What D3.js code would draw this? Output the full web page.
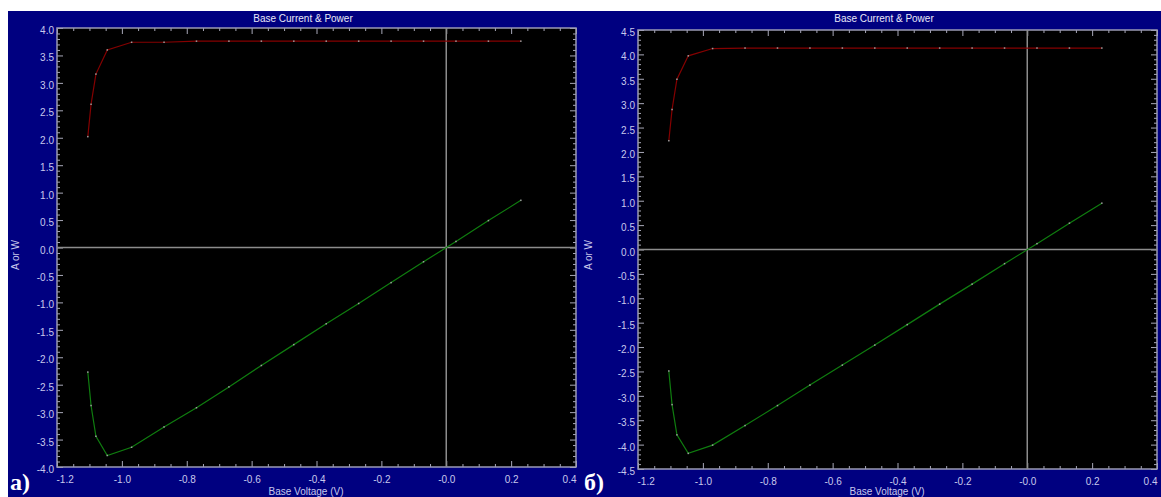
<!DOCTYPE html>
<html lang="ru">
<head>
<meta charset="utf-8">
<title>Base Current & Power</title>
<script src="https://d3js.org/d3.v7.min.js"></script>
<style>
  body { margin: 0; background: #fff; }
  svg { display: block; }
  .tick text { font-family: "Liberation Sans", Arial, sans-serif; font-size: 10px; fill: #c8c8ec; }
  .tick line { stroke: #a8a8b8; }
  .lbl { font-family: "Liberation Sans", Arial, sans-serif; font-size: 10px; fill: #c8c8ec; }
  .ttl { font-family: "Liberation Sans", Arial, sans-serif; font-size: 10px; fill: #e8e8f8; }
  .tag { font-family: "Liberation Serif", "Times New Roman", serif; font-weight: bold; font-size: 24px; fill: #fff; }
</style>
</head>
<body>
<div id="chart"></div>
<script>
// base voltage sweep (V), same for both measurements
var volts = [-1.105, -1.095, -1.08, -1.045, -0.97, -0.87, -0.77, -0.67, -0.57, -0.47, -0.37, -0.27, -0.17, -0.07, 0.03, 0.13, 0.23];

// panel а)
var currentA = [2.02, 2.61, 3.16, 3.60, 3.74, 3.74, 3.76, 3.76, 3.76, 3.76, 3.76, 3.76, 3.76, 3.76, 3.76, 3.76, 3.76];
var powerA = [-2.27, -2.88, -3.44, -3.79, -3.64, -3.27, -2.92, -2.54, -2.15, -1.77, -1.39, -1.02, -0.64, -0.26, 0.11, 0.49, 0.86];

// panel б)
var currentB = [2.23, 2.87, 3.49, 3.97, 4.12, 4.13, 4.13, 4.13, 4.13, 4.13, 4.13, 4.13, 4.13, 4.13, 4.13, 4.13, 4.13];
var powerB = [-2.49, -3.18, -3.80, -4.18, -4.01, -3.61, -3.20, -2.78, -2.37, -1.96, -1.54, -1.12, -0.71, -0.29, 0.12, 0.54, 0.95];

// axis ticks
var xMajor = [-1.2, -1.0, -0.8, -0.6, -0.4, -0.2, 0.0, 0.2, 0.4];
var xLabels = ["-1.2", "-1.0", "-0.8", "-0.6", "-0.4", "-0.2", "-0.0", "0.2", "0.4"];
var yLabelsA = ["-4.0", "-3.5", "-3.0", "-2.5", "-2.0", "-1.5", "-1.0", "-0.5", "0.0", "0.5", "1.0", "1.5", "2.0", "2.5", "3.0", "3.5", "4.0"];
var yLabelsB = ["-4.5", "-4.0", "-3.5", "-3.0", "-2.5", "-2.0", "-1.5", "-1.0", "-0.5", "0.0", "0.5", "1.0", "1.5", "2.0", "2.5", "3.0", "3.5", "4.0", "4.5"];

var W = 1161, H = 497;
var svg = d3.select("#chart").append("svg").attr("width", W).attr("height", H);

function drawPanel(p) {
  var g = svg.append("g");

  // blue frame
  g.append("rect").attr("x", p.bx).attr("y", 11).attr("width", p.bw).attr("height", H - 11).attr("fill", "#000080");

  var x = d3.scaleLinear().domain([-1.2, 0.4]).range([p.left, p.right]);
  var y = d3.scaleLinear().domain([-p.ymax, p.ymax]).range([p.bottom, p.top]);

  g.append("rect").attr("x", p.left).attr("y", p.top)
    .attr("width", p.right - p.left).attr("height", p.bottom - p.top).attr("fill", "#000");

  var yMajor = p.ylabels.map(Number);
  var xMinor = d3.range(-1.2, 0.401, 0.05).filter(function (v) { return Math.abs(v * 5 - Math.round(v * 5)) > 0.01; });
  var yMinor = d3.range(-p.ymax, p.ymax + 0.001, 0.1).filter(function (v) { return Math.abs(v * 2 - Math.round(v * 2)) > 0.01; });

  function axes(gen, sc, ticks, size, labels, tr) {
    var a = gen(sc).tickValues(ticks).tickSizeInner(-size).tickSizeOuter(0);
    if (labels) a.tickFormat(function (d, i) { return labels[i]; }).tickPadding(labels.pad);
    else a.tickFormat("");
    var ag = g.append("g").attr("transform", tr).call(a);
    ag.select(".domain").remove();
    return ag;
  }

  xLabels.pad = 9;
  p.ylabels.pad = 3;
  var xl = axes(d3.axisBottom, x, xMajor, 6, xLabels, "translate(0," + p.bottom + ")");
  // end labels are kept inside the plot width
  var xt = xl.selectAll("text");
  xt.filter(function (d, i) { return i === 0; }).attr("text-anchor", "start").attr("x", -1);
  xt.filter(function (d, i) { return i === xMajor.length - 1; }).attr("text-anchor", "end").attr("x", 0);
  axes(d3.axisBottom, x, xMinor, 3, null, "translate(0," + p.bottom + ")");
  axes(d3.axisTop, x, xMajor, 6, null, "translate(0," + p.top + ")");
  axes(d3.axisTop, x, xMinor, 3, null, "translate(0," + p.top + ")");
  var yl = axes(d3.axisLeft, y, yMajor, 6, p.ylabels, "translate(" + p.left + ",0)");
  yl.selectAll("text").attr("dy", "0.55em");
  axes(d3.axisLeft, y, yMinor, 3, null, "translate(" + p.left + ",0)");
  axes(d3.axisRight, y, yMajor, 6, null, "translate(" + p.right + ",0)");
  axes(d3.axisRight, y, yMinor, 3, null, "translate(" + p.right + ",0)");

  // plot border
  g.append("rect").attr("x", p.left).attr("y", p.top)
    .attr("width", p.right - p.left).attr("height", p.bottom - p.top)
    .attr("fill", "none").attr("stroke", "#9a9ab4").attr("stroke-width", 1.5);

  // zero lines
  g.append("line").attr("x1", x(0)).attr("x2", x(0)).attr("y1", p.top).attr("y2", p.bottom)
    .attr("stroke", "#8c8c8c").attr("stroke-width", 1.5);
  g.append("line").attr("x1", p.left).attr("x2", p.right).attr("y1", y(0)).attr("y2", y(0))
    .attr("stroke", "#8c8c8c").attr("stroke-width", 1.5);

  var line = d3.line().x(function (d) { return x(d[0]); }).y(function (d) { return y(d[1]); });
  [[p.current, "#850000"], [p.power, "#0f7d0f"]].forEach(function (s) {
    var pts = volts.map(function (v, i) { return [v, s[0][i]]; });
    g.append("path").datum(pts).attr("d", line)
      .attr("fill", "none").attr("stroke", s[1]).attr("stroke-width", 1.2);
    g.selectAll(null).data(pts).enter().append("rect")
      .attr("x", function (d) { return x(d[0]) - 0.75; })
      .attr("y", function (d) { return y(d[1]) - 0.75; })
      .attr("width", 1.5).attr("height", 1.5).attr("fill", "#9c9c9c");
  });

  g.append("text").attr("class", "ttl").attr("x", p.titleX).attr("y", 22)
    .attr("text-anchor", "middle").text("Base Current & Power");
  g.append("text").attr("class", "lbl").attr("x", p.titleX + 3).attr("y", 495)
    .attr("text-anchor", "middle").text("Base Voltage (V)");
  g.append("text").attr("class", "lbl")
    .attr("transform", "translate(" + (p.bx + 11) + "," + 255 + ") rotate(-90)")
    .attr("text-anchor", "middle").text("A or W");
  g.append("text").attr("class", "tag").attr("x", p.tagX).attr("y", 490).text(p.tag);
}

drawPanel({ bx: 8, bw: 573, left: 57, right: 576, top: 28, bottom: 467, ymax: 4,
  ylabels: yLabelsA, current: currentA, power: powerA, titleX: 303, tagX: 10, tag: "а)" });
drawPanel({ bx: 581, bw: 580, left: 638, right: 1157, top: 30, bottom: 469, ymax: 4.5,
  ylabels: yLabelsB, current: currentB, power: powerB, titleX: 884, tagX: 584, tag: "б)" });
</script>
</body>
</html>
